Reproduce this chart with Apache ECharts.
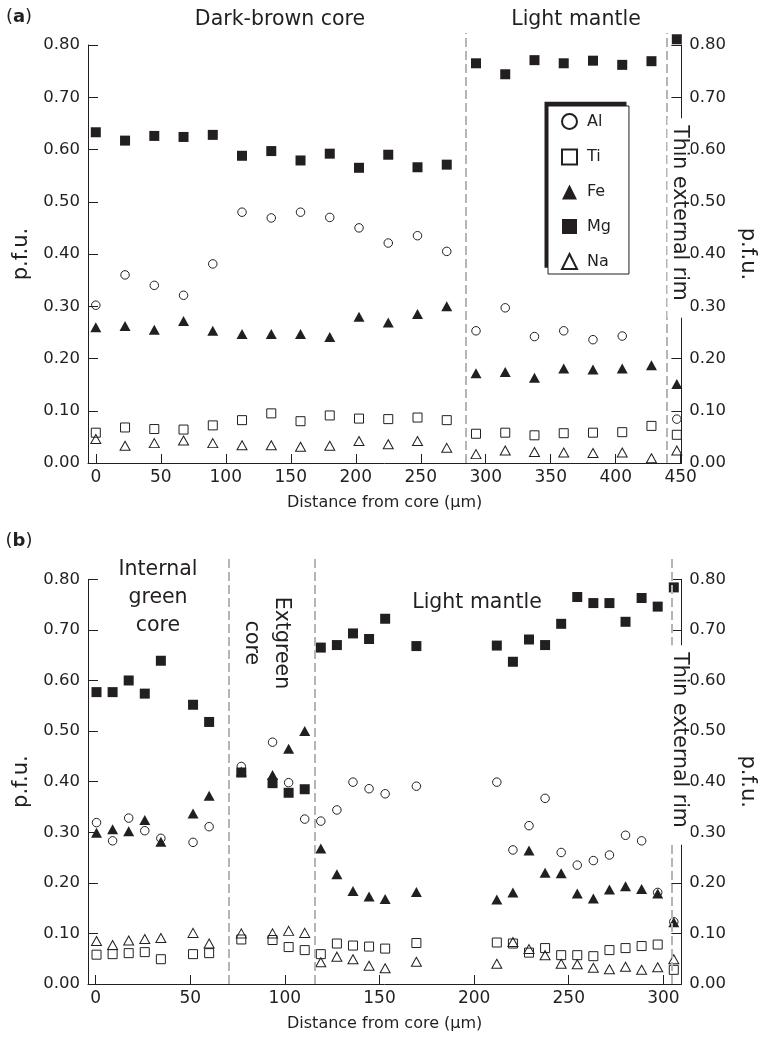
<!DOCTYPE html>
<html>
<head>
<meta charset="utf-8">
<script src="https://cdn.jsdelivr.net/npm/echarts@6.0.0/dist/echarts.min.js"></script>
<style>
  html, body { margin: 0; background: #fff; }
  #main { width: 766px; height: 1037px; }
</style>
</head>
<body>
<div id="main"></div>
<script>
// panel (a): distance from core (um) and p.f.u. per element
const distA = [0, 22.5, 45, 67.5, 90, 112.5, 135, 157.5, 180, 202.5, 225, 247.5, 270,
  292.5, 315, 337.5, 360, 382.5, 405, 427.5, 447];
const alA = [0.302, 0.360, 0.340, 0.321, 0.381, 0.480, 0.469, 0.480, 0.470, 0.450, 0.421, 0.435, 0.405,
  0.253, 0.297, 0.242, 0.253, 0.236, 0.243, null, 0.084];
const tiA = [0.058, 0.068, 0.065, 0.064, 0.072, 0.082, 0.095, 0.080, 0.091, 0.085, 0.084, 0.087, 0.082,
  0.056, 0.058, 0.053, 0.057, 0.058, 0.059, 0.071, 0.054];
const feA = [0.260, 0.262, 0.255, 0.272, 0.253, 0.247, 0.247, 0.247, 0.241, 0.280, 0.269, 0.285, 0.300,
  0.172, 0.174, 0.163, 0.181, 0.179, 0.181, 0.187, 0.151];
const mgA = [0.633, 0.617, 0.626, 0.624, 0.628, 0.588, 0.597, 0.579, 0.592, 0.565, 0.590, 0.566, 0.571,
  0.765, 0.744, 0.771, 0.765, 0.770, 0.762, 0.769, 0.811];
const naA = [0.046, 0.033, 0.038, 0.043, 0.038, 0.034, 0.034, 0.031, 0.033, 0.042, 0.036, 0.042, 0.029,
  0.017, 0.024, 0.021, 0.020, 0.019, 0.020, 0.009, 0.024];

// panel (b)
const distB = [0.5, 9, 17.5, 26, 34.5, 51.5, 60, 77, 93.5, 102, 110.5,
  119, 127.5, 136, 144.5, 153, 169.5, 212, 220.5, 229, 237.5, 246, 254.5, 263, 271.5, 280, 288.5, 297, 305.5];
const alB = [0.319, 0.283, 0.328, 0.303, 0.288, 0.280, 0.311, 0.430, 0.478, 0.398, 0.326,
  0.322, 0.344, 0.399, 0.386, 0.376, 0.391, 0.399, 0.265, 0.313, 0.367, 0.260, 0.235, 0.244, 0.255, 0.294, 0.283, 0.181, 0.123];
const tiB = [0.058, 0.059, 0.061, 0.063, 0.049, 0.059, 0.061, 0.088, 0.087, 0.073, 0.067,
  0.059, 0.080, 0.076, 0.074, 0.070, 0.081, 0.082, 0.080, 0.062, 0.071, 0.057, 0.057, 0.055, 0.067, 0.071, 0.075, 0.078, 0.028];
const feB = [0.299, 0.306, 0.302, 0.324, 0.281, 0.337, 0.372, 0.420, 0.413, 0.465, 0.500,
  0.268, 0.217, 0.184, 0.173, 0.168, 0.182, 0.167, 0.181, 0.264, 0.220, 0.219, 0.179, 0.169, 0.187, 0.193, 0.188, 0.179, 0.122];
const mgB = [0.577, 0.577, 0.600, 0.574, 0.639, 0.552, 0.518, 0.418, 0.397, 0.378, 0.385,
  0.665, 0.670, 0.693, 0.682, 0.722, 0.668, 0.669, 0.637, 0.681, 0.670, 0.712, 0.765, 0.753, 0.753, 0.716, 0.763, 0.746, 0.784];
const naB = [0.085, 0.077, 0.086, 0.089, 0.091, 0.101, 0.080, 0.100, 0.100, 0.105, 0.101,
  0.043, 0.054, 0.049, 0.036, 0.031, 0.044, 0.040, 0.083, 0.069, 0.057, 0.040, 0.039, 0.032, 0.029, 0.034, 0.028, 0.033, 0.049];

// zone boundaries (dashed lines) and tick values
const boundsA = [280, 432.5];
const boundsB = [69.5, 114.3, 300.1];
const ticksA = [0, 50, 100, 150, 200, 250, 300, 350, 400, 450];
const ticksB = [0, 50, 100, 150, 200, 250, 300];
const elements = ['Al', 'Ti', 'Fe', 'Mg', 'Na'];

const INK = '#231f20';
const FONT = 'DejaVu Sans';
const hollow = { color: 'rgba(255,255,255,0)', borderColor: INK, borderWidth: 1, opacity: 1 };
const solid = { color: INK, opacity: 1 };
const marks = {
  Al: { symbol: 'circle', symbolSize: 8.5, itemStyle: hollow },
  Ti: { symbol: 'rect', symbolSize: 9, itemStyle: hollow },
  Fe: { symbol: 'triangle', symbolSize: [11, 10], itemStyle: solid },
  Mg: { symbol: 'rect', symbolSize: 10, itemStyle: solid },
  Na: { symbol: 'triangle', symbolSize: [10, 9], itemStyle: hollow }
};

function pts(xs, ys) {
  const out = [];
  xs.forEach((x, i) => { if (ys[i] != null) out.push([x, ys[i]]); });
  return out;
}

function yAxisCfg(grid, pos, gap, rot) {
  return {
    type: 'value', gridIndex: grid, position: pos, min: 0, max: 0.8, interval: 0.1,
    name: 'p.f.u.', nameLocation: 'middle', nameGap: gap, nameRotate: rot,
    nameTextStyle: { fontFamily: FONT, fontSize: 21, color: INK },
    axisLine: { show: true, onZero: false, lineStyle: { color: INK, width: 1 } },
    axisTick: { show: true, inside: true, length: 10, lineStyle: { color: INK } },
    axisLabel: { margin: 8, fontFamily: FONT, fontSize: 16.5, color: INK, formatter: v => v.toFixed(2) },
    splitLine: { show: false }
  };
}

function xAxisCfg(grid, min, max, ticks) {
  return {
    type: 'value', gridIndex: grid, min: min, max: max,
    name: 'Distance from core (\u03bcm)', nameLocation: 'middle', nameGap: 32,
    nameTextStyle: { fontFamily: FONT, fontSize: 16, color: INK },
    axisLine: { onZero: false, lineStyle: { color: INK, width: 1 } },
    axisTick: { inside: true, length: 9, customValues: ticks, lineStyle: { color: INK } },
    axisLabel: { margin: 6, fontFamily: FONT, fontSize: 17, color: INK, customValues: ticks },
    splitLine: { show: false }
  };
}

function hiddenX(grid, min, max) {
  return { type: 'value', gridIndex: grid, min: min, max: max, show: false };
}
function hiddenY(grid) {
  return { type: 'value', gridIndex: grid, min: 0, max: 1, show: false };
}

function zoneLines(xi, yi, bounds) {
  return {
    type: 'scatter', xAxisIndex: xi, yAxisIndex: yi, data: [], silent: true,
    markLine: {
      silent: true, symbol: ['none', 'none'], animation: false,
      label: { show: false },
      lineStyle: { color: '#b5b5b5', width: 2, type: [9, 4], opacity: 1 },
      data: bounds.map(b => ({ xAxis: b }))
    }
  };
}

const dataA = { Al: alA, Ti: tiA, Fe: feA, Mg: mgA, Na: naA };
const dataB = { Al: alB, Ti: tiB, Fe: feB, Mg: mgB, Na: naB };

const series = [zoneLines(2, 4, boundsA), zoneLines(3, 5, boundsB)];
elements.forEach(el => {
  series.push(Object.assign({ type: 'scatter', name: el, xAxisIndex: 0, yAxisIndex: 0, clip: false, z: 3,
    data: pts(distA, dataA[el]) }, marks[el]));
  series.push(Object.assign({ type: 'scatter', name: el, xAxisIndex: 1, yAxisIndex: 2, clip: false, z: 3,
    data: pts(distB, dataB[el]) }, marks[el]));
});

function note(text, x, y, extra) {
  return Object.assign({
    type: 'text', x: x, y: y, z: 50,
    style: Object.assign({ text: text, fontFamily: FONT, fontSize: 20.5, fill: INK,
      align: 'center', verticalAlign: 'middle' }, (extra && extra.style) || {})
  }, extra && extra.rotation ? { rotation: extra.rotation } : {});
}
const rimBox = { backgroundColor: '#fff', padding: [0, 17, 2, 7] };
const bold = { b: { fontWeight: 'bold', fontSize: 18, fontFamily: FONT } };

const chart = echarts.init(document.getElementById('main'), null, { renderer: 'canvas' });
chart.setOption({
  animation: false,
  backgroundColor: '#fff',
  grid: [
    { left: 88, top: 45, width: 602.7, height: 418 },
    { left: 88, top: 579.3, width: 601.3, height: 404.7 },
    { left: 88, top: 33, width: 602.7, height: 430 },
    { left: 88, top: 555, width: 601.3, height: 429 }
  ],
  xAxis: [
    xAxisCfg(0, -6, 450.5, ticksA),
    xAxisCfg(1, -4, 309.5, ticksB),
    hiddenX(2, -6, 450.5),
    hiddenX(3, -4, 309.5)
  ],
  yAxis: [
    yAxisCfg(0, 'left', 54, 90),
    yAxisCfg(0, 'right', 53, -90),
    yAxisCfg(1, 'left', 54, 90),
    yAxisCfg(1, 'right', 53, -90),
    hiddenY(2),
    hiddenY(3)
  ],
  legend: {
    data: elements, orient: 'vertical', left: 548, top: 106, z: 10,
    padding: [7, 18, 4, 13], itemWidth: 15, itemHeight: 15, itemGap: 18.5,
    backgroundColor: '#fff', borderColor: INK, borderWidth: 1,
    selectedMode: false,
    itemStyle: { opacity: 1 },
    textStyle: { fontFamily: FONT, fontSize: 16, color: INK, padding: [0, 0, 0, 5] }
  },
  graphic: { elements: [
    // thick offset frame behind the legend box
    { type: 'rect', z: 1, shape: { x: 544.5, y: 101.7, width: 82, height: 166 }, style: { fill: INK } },
    note('({b|a})', 19, 17, { style: { fontSize: 18, rich: bold } }),
    note('Dark-brown core', 280, 20),
    note('Light mantle', 576, 20),
    note('Thin external rim', 679, 218, { rotation: -Math.PI / 2, style: rimBox }),
    note('({b|b})', 19, 541, { style: { fontSize: 18, rich: bold } }),
    note('Internal\ngreen\ncore', 158, 598, { style: { lineHeight: 28 } }),
    note('Extgreen\ncore', 266, 643, { rotation: -Math.PI / 2, style: { lineHeight: 30 } }),
    note('Light mantle', 477, 603),
    note('Thin external rim', 679, 745, { rotation: -Math.PI / 2, style: rimBox })
  ] },
  series: series
});
</script>
</body>
</html>
